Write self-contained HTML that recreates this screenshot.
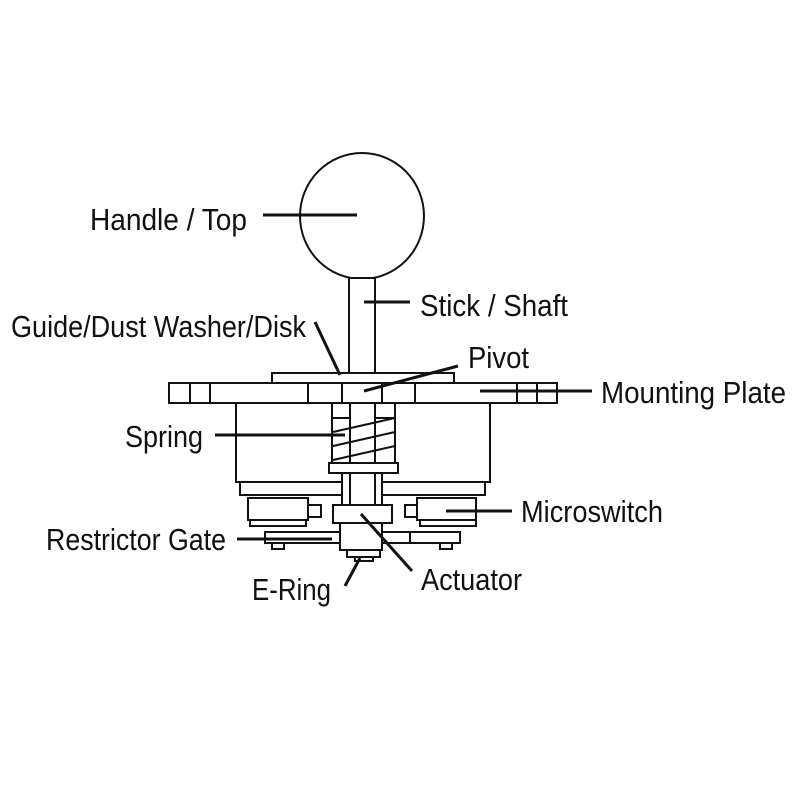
<!DOCTYPE html>
<html><head><meta charset="utf-8"><style>
html,body{margin:0;padding:0;background:#fff;}
svg{display:block;}
text{font-family:"Liberation Sans Narrow","Liberation Sans",sans-serif;font-size:31px;fill:#111;}
</style></head><body>
<svg width="800" height="800" viewBox="0 0 800 800" xmlns="http://www.w3.org/2000/svg">
<rect width="800" height="800" fill="#fff"/>
<g fill="#fff" stroke="#111" stroke-width="2">
<ellipse cx="362" cy="216" rx="62" ry="63"/>
<rect x="349" y="278" width="26" height="95"/>
<rect x="272" y="373" width="182" height="10"/>
<rect x="169" y="383" width="388" height="20"/>
<line x1="190" y1="383" x2="190" y2="403"/>
<line x1="210" y1="383" x2="210" y2="403"/>
<line x1="308" y1="383" x2="308" y2="403"/>
<line x1="342" y1="383" x2="342" y2="403"/>
<line x1="382" y1="383" x2="382" y2="403"/>
<line x1="415" y1="383" x2="415" y2="403"/>
<line x1="517" y1="383" x2="517" y2="403"/>
<line x1="537" y1="383" x2="537" y2="403"/>
<rect x="236" y="403" width="254" height="79"/>
<rect x="240" y="482" width="245" height="13"/>
<rect x="332" y="403" width="63" height="60"/>
<line x1="350" y1="403" x2="350" y2="463"/>
<line x1="375" y1="403" x2="375" y2="463"/>
<line x1="332" y1="418" x2="350" y2="418"/>
<line x1="375" y1="418" x2="395" y2="418"/>
<path d="M333 432 L395 418 M333 446 L395 432 M333 460 L395 446" fill="none"/>
<rect x="329" y="463" width="69" height="10"/>
<rect x="342" y="473" width="40" height="34"/>
<line x1="350" y1="473" x2="350" y2="507"/>
<line x1="375" y1="473" x2="375" y2="507"/>
<rect x="248" y="498" width="60" height="22"/>
<rect x="308" y="505" width="13" height="12"/>
<rect x="250" y="520" width="56" height="6"/>
<rect x="417" y="498" width="59" height="22"/>
<rect x="405" y="505" width="12" height="12"/>
<rect x="420" y="520" width="56" height="6"/>
<rect x="265" y="532" width="145" height="11"/>
<rect x="410" y="532" width="50" height="11"/>
<rect x="272" y="543" width="12" height="6"/>
<rect x="440" y="543" width="12" height="6"/>
<rect x="333" y="505" width="59" height="18"/>
<rect x="340" y="523" width="42" height="27"/>
<rect x="347" y="550" width="33" height="7"/>
<rect x="355" y="557" width="18" height="4"/>
</g>
<g stroke="#111" stroke-width="3" fill="none">
<line x1="263" y1="215" x2="357" y2="215"/>
<line x1="364" y1="302" x2="410" y2="302"/>
<line x1="315" y1="322" x2="340" y2="375"/>
<line x1="458" y1="366" x2="364" y2="391"/>
<line x1="480" y1="391" x2="592" y2="391"/>
<line x1="215" y1="435" x2="345" y2="435"/>
<line x1="446" y1="511" x2="512" y2="511"/>
<line x1="237" y1="539" x2="332" y2="539"/>
<line x1="345" y1="586" x2="360" y2="558"/>
<line x1="361" y1="514" x2="412" y2="571"/>
</g>
<text x="90" y="230" textLength="157" lengthAdjust="spacingAndGlyphs">Handle / Top</text>
<text x="420" y="316" textLength="148" lengthAdjust="spacingAndGlyphs">Stick / Shaft</text>
<text x="11" y="337" textLength="295" lengthAdjust="spacingAndGlyphs">Guide/Dust Washer/Disk</text>
<text x="468" y="368" textLength="61" lengthAdjust="spacingAndGlyphs">Pivot</text>
<text x="601" y="403" textLength="185" lengthAdjust="spacingAndGlyphs">Mounting Plate</text>
<text x="125" y="447" textLength="78" lengthAdjust="spacingAndGlyphs">Spring</text>
<text x="521" y="522" textLength="142" lengthAdjust="spacingAndGlyphs">Microswitch</text>
<text x="46" y="550" textLength="180" lengthAdjust="spacingAndGlyphs">Restrictor Gate</text>
<text x="252" y="600" textLength="79" lengthAdjust="spacingAndGlyphs">E-Ring</text>
<text x="421" y="590" textLength="101" lengthAdjust="spacingAndGlyphs">Actuator</text>
</svg>
</body></html>
